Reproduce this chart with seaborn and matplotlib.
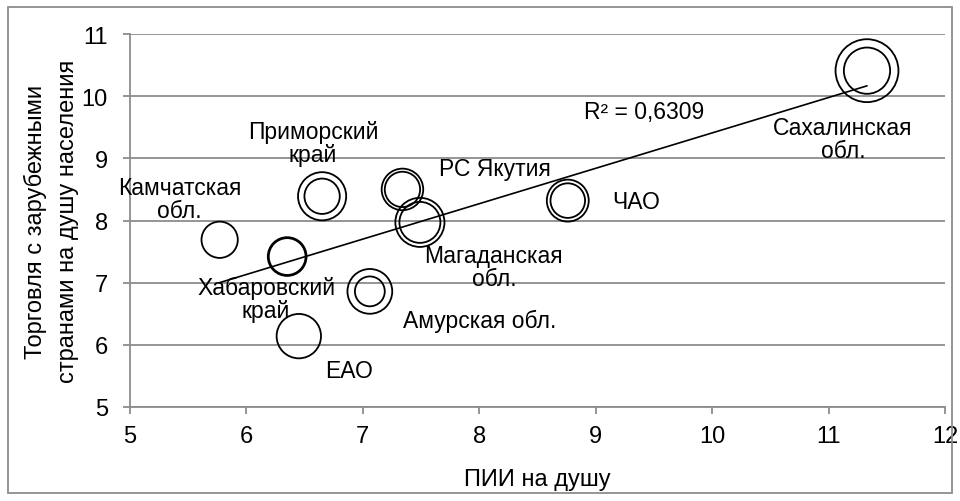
import numpy as np
import pandas as pd
import matplotlib
matplotlib.use("Agg")
import matplotlib.pyplot as plt
import seaborn as sns
from matplotlib.patches import Rectangle

# data
regions = ["Камчатская\nобл.", "Хабаровский\nкрай", "Приморский\nкрай", "РС Якутия",
           "Магаданская\nобл.", "Амурская обл.", "ЕАО", "ЧАО", "Сахалинская\nобл."]
fdi = [5.77, 6.35, 6.65, 7.34, 7.49, 7.06, 6.45, 8.76, 11.33]
trade = [7.69, 7.42, 8.39, 8.50, 7.97, 6.86, 6.14, 8.32, 10.41]
bubble_outer = [36.9, 42.0, 65.0, 48.4, 67.6, 56.2, 55.2, 49.3, 110.9]
bubble_inner = [np.nan, 38.0, 35.0, 35.0, 47.1, 25.0, np.nan, 33.5, 60.0]
r2_text = "R² = 0,6309"

x_ticks = [5, 6, 7, 8, 9, 10, 11, 12]
y_ticks = [5, 6, 7, 8, 9, 10, 11]

# label offsets from bubble centre, in pixels (right, up)
label_offsets = [(-40, 41), (-21, -42), (-9, 53), (92, 21), (74, -45),
                 (110, -29), (50, -34), (68, -1), (-24, -68)]

df = pd.DataFrame({"region": regions, "fdi": fdi, "trade": trade,
                   "outer": bubble_outer, "inner": bubble_inner})

sns.set_theme(style="white")
plt.rcParams["font.family"] = ["Liberation Sans", "DejaVu Sans"]
plt.rcParams["text.color"] = "black"

fig = plt.figure(figsize=(9.6, 5.02), dpi=100)
ax = fig.add_axes([130 / 960, 1 - 408 / 502, 815 / 960, 373 / 502])

px = 72 / 100  # points per pixel
vmax = max(bubble_outer)
smax = 18.5 * vmax

sns.scatterplot(data=df, x="fdi", y="trade", size="outer", sizes=(0, smax),
                size_norm=(0, vmax), color="black", facecolors="none",
                edgecolor="black", linewidth=1.3, legend=False, ax=ax, zorder=3)
sns.scatterplot(data=df.dropna(subset=["inner"]), x="fdi", y="trade", size="inner",
                sizes=(0, smax), size_norm=(0, vmax), color="black",
                facecolors="none", edgecolor="black", linewidth=1.3,
                legend=False, ax=ax, zorder=3)

sns.regplot(data=df, x="fdi", y="trade", scatter=False, ci=None, truncate=True,
            line_kws={"color": "black", "linewidth": 1.2, "zorder": 4}, ax=ax)

for (lab, xv, yv), (dx, dy) in zip(zip(regions, fdi, trade), label_offsets):
    ax.annotate(lab, (xv, yv), xytext=(dx * px, dy * px), textcoords="offset points",
                ha="center", va="center", fontsize=16.5, linespacing=1.0,
                color="black", zorder=5)

ax.text(9.42, 9.76, r2_text, ha="center", va="center", fontsize=16.5, color="black")

ax.set_xlim(5, 12)
ax.set_ylim(5, 11)
ax.set_xticks(x_ticks)
ax.set_yticks(y_ticks)
ax.set_xticklabels([str(t) for t in x_ticks])
ax.set_yticklabels([str(t) for t in y_ticks])

grey = "#8c8c8c"
ax.grid(axis="y", color=grey, linewidth=1.3)
ax.grid(axis="x", visible=False)
ax.set_axisbelow(True)
for side in ["top", "right"]:
    ax.spines[side].set_visible(False)
for side in ["left", "bottom"]:
    ax.spines[side].set_color(grey)
    ax.spines[side].set_linewidth(1.3)

ax.tick_params(axis="both", which="major", labelsize=17, colors="black",
               length=5, width=1.3, color=grey, direction="out")
ax.tick_params(axis="y", pad=11, left=True)
ax.tick_params(axis="x", pad=8, bottom=True)

ax.set_xlabel("ПИИ на душу", fontsize=17, color="black")
ax.set_ylabel("Торговля с зарубежными\nстранами на душу населения", fontsize=17,
              linespacing=1.55, color="black")
ax.xaxis.set_label_coords(0.5, -0.163)
ax.yaxis.set_label_coords(-0.063, 0.5)

fig.patches.append(Rectangle((8 / 960, 8 / 502), 944 / 960, 486 / 502,
                             transform=fig.transFigure, fill=False,
                             edgecolor=grey, linewidth=1.3))

fig.savefig("out.png", dpi=100)
